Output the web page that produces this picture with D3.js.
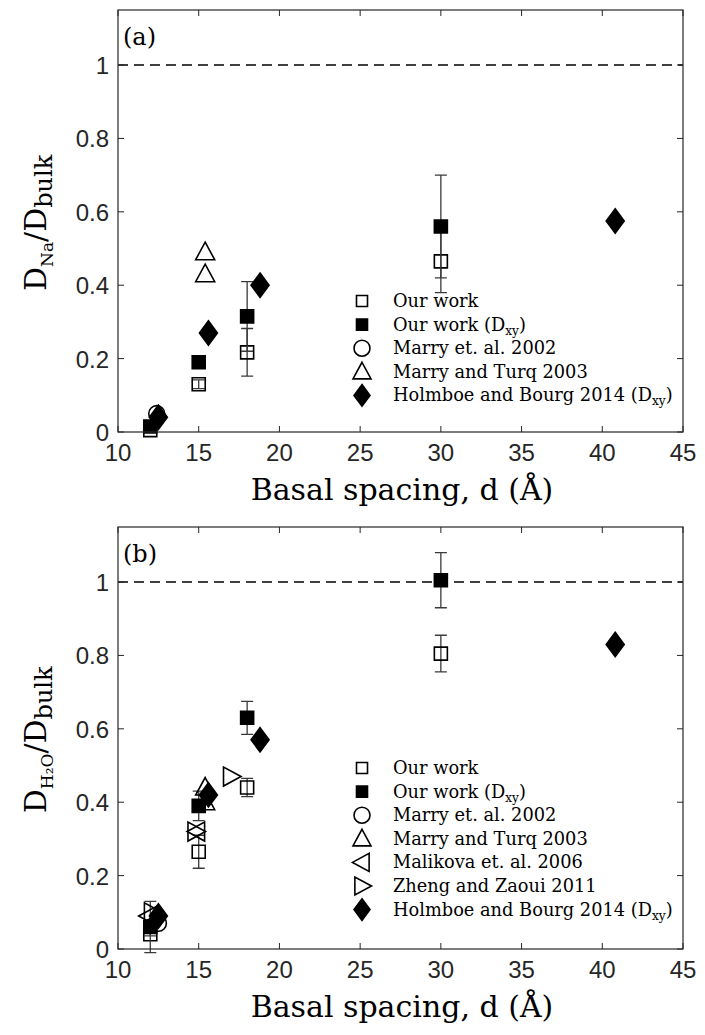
<!DOCTYPE html>
<html>
<head>
<meta charset="utf-8">
<script src="https://cdn.jsdelivr.net/npm/d3@7"></script>
<style>
  html, body { margin: 0; padding: 0; background: #fff; }
  svg { display: block; }
</style>
</head>
<body>
<svg id="chart" width="705" height="1035"></svg>
<script>
// ---- axis ticks ----
const xTicks = [10, 15, 20, 25, 30, 35, 40, 45];
const yTicks = [0, 0.2, 0.4, 0.6, 0.8, 1];
const yTickLabels = ["0", "0.2", "0.4", "0.6", "0.8", "1"];

// ---- panel (a): Na diffusion ----
const naOurD = [12.0, 15.0, 18.0, 30.0];
const naOur = [0.005, 0.13, 0.217, 0.465];
const naOurErr = [0.004, 0.012, 0.065, 0.085];
const naOurXy = [0.015, 0.19, 0.315, 0.56];
const naOurXyErr = [0.006, 0.008, 0.095, 0.14];
const naMarry02D = [12.4];
const naMarry02 = [0.05];
const naMarryTurqD = [15.4, 15.4];
const naMarryTurq = [0.49, 0.43];
const naHolmboeD = [12.5, 15.6, 18.8, 40.8];
const naHolmboe = [0.04, 0.27, 0.40, 0.575];

// ---- panel (b): water diffusion ----
const wOurD = [12.0, 15.0, 18.0, 30.0];
const wOur = [0.04, 0.265, 0.44, 0.805];
const wOurErr = [0.004, 0.045, 0.025, 0.05];
const wOurXy = [0.06, 0.39, 0.63, 1.005];
const wOurXyErr = [0.07, 0.04, 0.045, 0.075];
const wMarry02D = [12.5];
const wMarry02 = [0.07];
const wMarryTurqD = [15.4, 15.4];
const wMarryTurq = [0.44, 0.40];
const wMalikovaD = [11.9, 14.9];
const wMalikova = [0.09, 0.32];
const wZhengD = [12.1, 14.8, 17.0];
const wZheng = [0.10, 0.32, 0.47];
const wHolmboeD = [12.5, 15.6, 18.8, 40.8];
const wHolmboe = [0.09, 0.42, 0.57, 0.83];

const legendA = ["Our work", "Our work (D|xy)", "Marry et. al. 2002", "Marry and Turq 2003", "Holmboe and Bourg 2014 (D|xy)"];
const legendB = ["Our work", "Our work (D|xy)", "Marry et. al. 2002", "Marry and Turq 2003", "Malikova et. al. 2006", "Zheng and Zaoui 2011", "Holmboe and Bourg 2014 (D|xy)"];

const svg = d3.select("#chart");
const serif = "DejaVu Serif";
const sans = "Liberation Sans";
const axisColor = "#262626";

const x = d3.scaleLinear().domain([10, 45]).range([118, 683]);

// marker path builders (centered at 0,0)
const shapes = {
  square: s => `M${-s},${-s}H${s}V${s}H${-s}Z`,
  diamond: s => `M0,${-s * 1.35}L${s},0L0,${s * 1.35}L${-s},0Z`,
  up: s => `M0,${-s}L${s * 0.95},${s * 0.75}L${-s * 0.95},${s * 0.75}Z`,
  left: s => `M${-s},0L${s * 0.75},${-s * 0.95}L${s * 0.75},${s * 0.95}Z`,
  right: s => `M${s},0L${-s * 0.75},${-s * 0.95}L${-s * 0.75},${s * 0.95}Z`
};

function marker(g, kind, filled, cx, cy) {
  if (kind === "circle") {
    g.append("circle").attr("cx", cx).attr("cy", cy).attr("r", 8)
      .attr("fill", filled ? "#000" : "none").attr("stroke", "#000").attr("stroke-width", 1.6);
    return;
  }
  const size = { square: 6.5, diamond: 9, up: 10, left: 10, right: 10 }[kind];
  g.append("path").attr("d", shapes[kind](size))
    .attr("transform", `translate(${cx},${cy})`)
    .attr("fill", filled ? "#000" : "none")
    .attr("stroke", "#000").attr("stroke-width", 1.6);
}

function series(g, y, ds, vs, kind, filled, errs) {
  ds.forEach((d, i) => {
    if (errs) {
      const top = y(vs[i] + errs[i]), bot = y(vs[i] - errs[i]), cx = x(d);
      g.append("path")
        .attr("d", `M${cx},${top}V${bot}M${cx - 6},${top}H${cx + 6}M${cx - 6},${bot}H${cx + 6}`)
        .attr("stroke", "#3a3a3a").attr("stroke-width", 1.3).attr("fill", "none");
    }
    marker(g, kind, filled, x(d), y(vs[i]));
  });
}

// text with an optional subscript after a "|" separator
function richText(sel, str, fs) {
  const parts = str.split("|");
  sel.append("tspan").text(parts[0]);
  if (parts.length > 1) {
    sel.append("tspan").attr("font-size", fs * 0.68).attr("dy", 4).text(parts[1].replace(")", ""));
    if (parts[1].includes(")")) sel.append("tspan").attr("dy", -4).text(")");
  }
}

function panel(top, bottom, tag, ylabelSub, drawData, legendItems, legendKinds, legendY0) {
  const y = d3.scaleLinear().domain([0, 1.15]).range([bottom, top]);
  const g = svg.append("g");

  // dashed reference at D/Dbulk = 1
  g.append("line").attr("x1", x(10)).attr("x2", x(45)).attr("y1", y(1)).attr("y2", y(1))
    .attr("stroke", "#000").attr("stroke-width", 1.6).attr("stroke-dasharray", "10,6");

  drawData(g, y);

  // box
  g.append("rect").attr("x", x(10)).attr("y", top).attr("width", x(45) - x(10)).attr("height", bottom - top)
    .attr("fill", "none").attr("stroke", axisColor).attr("stroke-width", 1.2);

  // ticks on all four sides, pointing inward
  const tl = 6;
  xTicks.forEach(t => {
    g.append("line").attr("x1", x(t)).attr("x2", x(t)).attr("y1", bottom).attr("y2", bottom - tl).attr("stroke", axisColor);
    g.append("line").attr("x1", x(t)).attr("x2", x(t)).attr("y1", top).attr("y2", top + tl).attr("stroke", axisColor);
    g.append("text").attr("x", x(t)).attr("y", bottom + 29).attr("text-anchor", "middle")
      .attr("font-family", sans).attr("font-size", 24).attr("fill", axisColor).text(t);
  });
  yTicks.forEach((t, i) => {
    g.append("line").attr("x1", x(10)).attr("x2", x(10) + tl).attr("y1", y(t)).attr("y2", y(t)).attr("stroke", axisColor);
    g.append("line").attr("x1", x(45)).attr("x2", x(45) - tl).attr("y1", y(t)).attr("y2", y(t)).attr("stroke", axisColor);
    g.append("text").attr("x", x(10) - 9).attr("y", y(t) + 9).attr("text-anchor", "end")
      .attr("font-family", sans).attr("font-size", 24).attr("fill", axisColor).text(yTickLabels[i]);
  });

  // panel tag
  g.append("text").attr("x", x(10) + 5).attr("y", top + 35).attr("font-family", serif)
    .attr("font-size", 24).attr("fill", "#000").text(tag);

  // x label
  g.append("text").attr("x", 402).attr("y", bottom + 68).attr("text-anchor", "middle")
    .attr("font-family", serif).attr("font-size", 30).attr("fill", "#000").text("Basal spacing, d (Å)");

  // y label
  const yl = g.append("text").attr("transform", `translate(46,${y(0.57)}) rotate(-90)`)
    .attr("text-anchor", "middle").attr("font-family", serif).attr("font-size", 30).attr("fill", "#000");
  yl.append("tspan").text("D");
  yl.append("tspan").attr("font-size", 17).attr("dy", 7).text(ylabelSub);
  yl.append("tspan").attr("dy", -7).text("/D");
  yl.append("tspan").attr("font-size", 24).attr("dy", 6).text("bulk");

  // legend
  legendItems.forEach((lab, i) => {
    const ly = legendY0 + i * 23.6;
    const k = legendKinds[i];
    if (k[0] === "circle") {
      g.append("circle").attr("cx", 362).attr("cy", ly).attr("r", 8)
        .attr("fill", "none").attr("stroke", "#000").attr("stroke-width", 1.6);
    } else {
      const s = { square: 5.5, diamond: 8, up: 9.5, left: 9.5, right: 9.5 }[k[0]];
      g.append("path").attr("d", shapes[k[0]](s)).attr("transform", `translate(362,${ly})`)
        .attr("fill", k[1] ? "#000" : "none").attr("stroke", "#000").attr("stroke-width", 1.6);
    }
    const t = g.append("text").attr("x", 393).attr("y", ly + 6).attr("font-family", serif)
      .attr("font-size", 17.8).attr("fill", "#000");
    richText(t, lab, 17.8);
  });
}

panel(10, 432, "(a)", "Na", (g, y) => {
  series(g, y, naMarry02D, naMarry02, "circle", false);
  series(g, y, naOurD, naOur, "square", false, naOurErr);
  series(g, y, naOurD, naOurXy, "square", true, naOurXyErr);
  series(g, y, naMarryTurqD, naMarryTurq, "up", false);
  series(g, y, naHolmboeD, naHolmboe, "diamond", true);
}, legendA, [["square", false], ["square", true], ["circle", false], ["up", false], ["diamond", true]], 301);

panel(527, 949, "(b)", "H₂O", (g, y) => {
  series(g, y, wMarry02D, wMarry02, "circle", false);
  series(g, y, wOurD, wOur, "square", false, wOurErr);
  series(g, y, wOurD, wOurXy, "square", true, wOurXyErr);
  series(g, y, wMarryTurqD, wMarryTurq, "up", false);
  series(g, y, wMalikovaD, wMalikova, "left", false);
  series(g, y, wZhengD, wZheng, "right", false);
  series(g, y, wHolmboeD, wHolmboe, "diamond", true);
}, legendB, [["square", false], ["square", true], ["circle", false], ["up", false], ["left", false], ["right", false], ["diamond", true]], 768);
</script>
</body>
</html>
